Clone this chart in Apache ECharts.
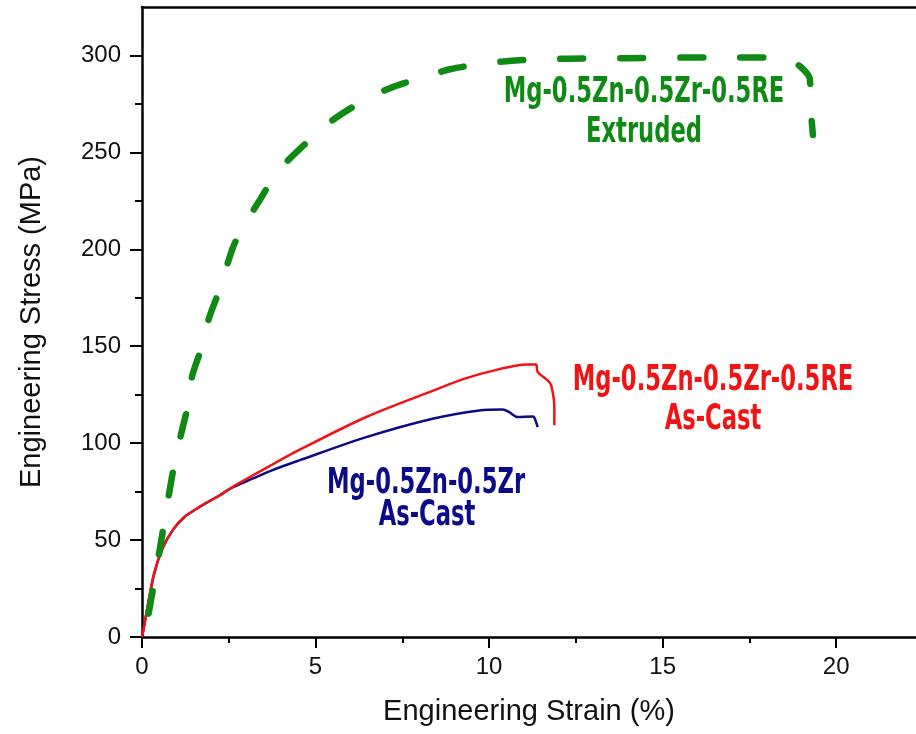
<!DOCTYPE html>
<html>
<head>
<meta charset="utf-8">
<script src="https://cdn.jsdelivr.net/npm/echarts@6/dist/echarts.min.js"></script>
<style>
  html, body { margin: 0; padding: 0; background: #fff; }
  #main { width: 916px; height: 734px; }
</style>
</head>
<body>
<div id="main"></div>
<script>
// strain (%) , stress (MPa)
var extrudedRE = [
  [0.19, 12], [0.35, 28], [0.5, 44], [0.64, 59], [0.79, 75], [0.93, 89],
  [1.13, 105], [1.31, 118.5], [1.45, 135], [1.71, 149], [1.94, 165],
  [2.23, 179], [2.6, 200], [2.86, 210], [3.38, 225], [3.9, 240],
  [4.74, 255], [5.49, 266.6], [6.41, 277], [7.24, 283.8], [8.1, 288.8],
  [8.9, 293], [9.77, 295.7], [10.58, 297.2], [11.45, 298], [12.27, 298.3],
  [14, 298.6], [16.5, 299], [18.0, 299], [18.52, 298.3], [18.95, 294.5],
  [19.24, 288], [19.27, 272], [19.33, 259]
];
var castRE = [
  [0, 0], [0.05, 4.5], [0.16, 15.5], [0.35, 32.7], [0.59, 45.6], [0.88, 55],
  [1.22, 61.9], [1.65, 67], [2.23, 73], [2.61, 77.4], [3.76, 89],
  [4.53, 96.5], [6.46, 113.5], [8.37, 127], [9.3, 133.3], [10.3, 138.2],
  [11.07, 140.6], [11.35, 140.6], [11.4, 136.7], [11.69, 132.4],
  [11.79, 129.8], [11.88, 118.6], [11.88, 109.2]
];
var castBase = [
  [0, 0], [0.05, 4.5], [0.16, 15.5], [0.35, 32.7], [0.59, 45.6], [0.88, 55],
  [1.22, 61.9], [1.65, 67], [2.23, 73], [2.61, 77.2], [3.2, 81.8],
  [3.76, 86.1], [4.53, 91.1], [6.46, 103.1], [8.37, 112.6], [9.72, 116.9],
  [10.39, 117.4], [10.58, 116], [10.82, 113.5], [11.26, 113.8],
  [11.31, 113], [11.4, 108.3]
];

var xMajor = [0, 5, 10, 15, 20];
var xMinor = [2.5, 7.5, 12.5, 17.5];
var yMajor = [0, 50, 100, 150, 200, 250, 300];
var yMinor = [25, 75, 125, 175, 225, 275];

var lbl = { fontFamily: 'Liberation Sans, Arial, sans-serif', fontSize: 24, color: '#111' };
var axLine = { show: true, lineStyle: { color: '#000', width: 2.5 } };
var noteFont = 'bold 35px "DejaVu Sans Condensed", "Liberation Sans", sans-serif';

function note(text, x, y, color) {
  return {
    type: 'text', x: x, y: y, scaleX: 0.72,
    style: { text: text, font: noteFont, fill: color, align: 'center', verticalAlign: 'middle' }
  };
}

var myChart = echarts.init(document.getElementById('main'));
myChart.setOption({
  animation: false,
  backgroundColor: '#fff',
  grid: { left: 142, right: 0, top: 7, bottom: 97 },
  xAxis: [
    {
      type: 'value', min: 0, max: 22.3, position: 'bottom',
      name: 'Engineering Strain (%)', nameLocation: 'middle', nameGap: 60,
      nameTextStyle: { fontFamily: 'Liberation Sans, Arial, sans-serif', fontSize: 29, color: '#111' },
      axisLine: axLine,
      axisTick: { show: true, length: 11, customValues: xMajor, lineStyle: { color: '#000', width: 2 } },
      axisLabel: Object.assign({ margin: 18, customValues: xMajor }, lbl),
      splitLine: { show: false }
    },
    {
      type: 'value', min: 0, max: 22.3, position: 'bottom',
      axisLine: { show: false },
      axisTick: { show: true, length: 6, customValues: xMinor, lineStyle: { color: '#000', width: 2 } },
      axisLabel: { show: false }, splitLine: { show: false }
    },
    {
      type: 'value', min: 0, max: 22.3, position: 'top',
      axisLine: axLine, axisTick: { show: false }, axisLabel: { show: false }, splitLine: { show: false }
    }
  ],
  yAxis: [
    {
      type: 'value', min: 0, max: 325, position: 'left',
      name: 'Engineering Stress (MPa)', nameLocation: 'middle', nameGap: 96,
      nameTextStyle: { fontFamily: 'Liberation Sans, Arial, sans-serif', fontSize: 29, color: '#111' },
      axisLine: axLine,
      axisTick: { show: true, length: 12, customValues: yMajor, lineStyle: { color: '#000', width: 2 } },
      axisLabel: Object.assign({ margin: 21, customValues: yMajor }, lbl),
      splitLine: { show: false }
    },
    {
      type: 'value', min: 0, max: 325, position: 'left',
      axisLine: { show: false },
      axisTick: { show: true, length: 7, customValues: yMinor, lineStyle: { color: '#000', width: 2 } },
      axisLabel: { show: false }, splitLine: { show: false }
    }
  ],
  series: [
    {
      type: 'line', data: castBase, showSymbol: false, smooth: 0.3,
      lineStyle: { color: '#0c0c86', width: 2.5 }, z: 2
    },
    {
      type: 'line', data: castRE, showSymbol: false, smooth: 0.3,
      lineStyle: { color: '#f01414', width: 2.5 }, z: 3
    },
    {
      type: 'line', data: extrudedRE, showSymbol: false, smooth: 0.25,
      lineStyle: { color: '#0f8a14', width: 6.5, type: [23, 37], cap: 'round' }, z: 4
    }
  ],
  graphic: [
    note('Mg-0.5Zn-0.5Zr-0.5RE', 644, 93, '#0f8a14'),
    note('Extruded', 644, 133, '#0f8a14'),
    note('Mg-0.5Zn-0.5Zr-0.5RE', 713, 381, '#f01414'),
    note('As-Cast', 713, 420, '#f01414'),
    note('Mg-0.5Zn-0.5Zr', 426, 484, '#0c0c86'),
    note('As-Cast', 427, 516, '#0c0c86')
  ]
});
</script>
</body>
</html>
